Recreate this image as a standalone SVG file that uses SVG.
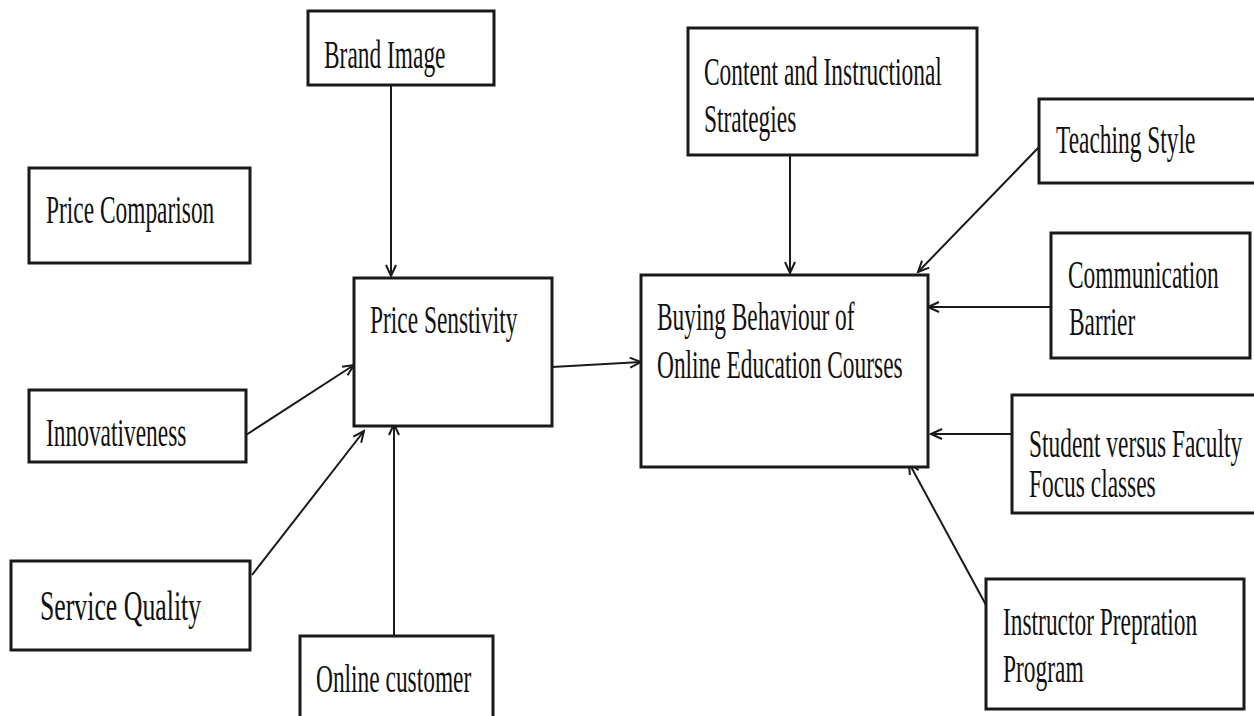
<svg xmlns="http://www.w3.org/2000/svg" width="1254" height="716" viewBox="0 0 1254 716">
<defs>
<style>
.box{fill:#fff;stroke:#1a1a1a;stroke-width:3}
.t{font-family:"Liberation Serif","Times New Roman",serif;font-size:39px;fill:#111}
.c{fill:none;stroke:#1a1a1a;stroke-width:2}
</style>
<marker id="ah" markerUnits="userSpaceOnUse" markerWidth="14" markerHeight="12" refX="12" refY="6" orient="auto">
<path d="M1,1 L12,6 L1,11" fill="none" stroke="#1a1a1a" stroke-width="2"/>
</marker>
</defs>
<rect width="1254" height="716" fill="#fff"/>
<g id="connectors">
<line class="c" x1="391" y1="86" x2="391" y2="276" marker-end="url(#ah)"/>
<line class="c" x1="246" y1="435" x2="354" y2="365" marker-end="url(#ah)"/>
<line class="c" x1="252" y1="575" x2="364" y2="431" marker-end="url(#ah)"/>
<line class="c" x1="394" y1="636" x2="394" y2="424" marker-end="url(#ah)"/>
<line class="c" x1="552" y1="367" x2="641" y2="362" marker-end="url(#ah)"/>
<line class="c" x1="790" y1="155" x2="790" y2="273" marker-end="url(#ah)"/>
<line class="c" x1="1039" y1="147" x2="918" y2="272" marker-end="url(#ah)"/>
<line class="c" x1="1051" y1="307" x2="928" y2="307" marker-end="url(#ah)"/>
<line class="c" x1="1012" y1="434" x2="931" y2="434" marker-end="url(#ah)"/>
<line class="c" x1="986" y1="605" x2="909" y2="463" marker-end="url(#ah)"/>
</g>
<g id="brand-image">
<rect class="box" x="308" y="11" width="186" height="74"/>
<text class="t" transform="translate(324,68) scale(0.6,1)">Brand Image</text>
</g>
<g id="price-comparison">
<rect class="box" x="29" y="168" width="221" height="95"/>
<text class="t" transform="translate(46,223) scale(0.6,1)">Price Comparison</text>
</g>
<g id="price-sensitivity">
<rect class="box" x="354" y="278" width="198" height="148"/>
<text class="t" transform="translate(370,333) scale(0.6,1)">Price Senstivity</text>
</g>
<g id="innovativeness">
<rect class="box" x="29" y="390" width="217" height="72"/>
<text class="t" transform="translate(46,446) scale(0.6,1)">Innovativeness</text>
</g>
<g id="service-quality">
<rect class="box" x="11" y="561" width="239" height="89"/>
<text class="t" style="font-size:43px" transform="translate(40,620) scale(0.6,1)">Service Quality</text>
</g>
<g id="online-customer">
<rect class="box" x="300" y="636" width="193" height="100"/>
<text class="t" transform="translate(316,692) scale(0.6,1)">Online customer</text>
</g>
<g id="buying-behaviour">
<rect class="box" x="641" y="275" width="287" height="192"/>
<text class="t" transform="translate(657,330) scale(0.6,1)">Buying Behaviour of</text>
<text class="t" transform="translate(657,378) scale(0.6,1)">Online Education Courses</text>
</g>
<g id="content-strategies">
<rect class="box" x="688" y="28" width="289" height="127"/>
<text class="t" transform="translate(704,85) scale(0.6,1)">Content and Instructional</text>
<text class="t" transform="translate(704,132) scale(0.6,1)">Strategies</text>
</g>
<g id="teaching-style">
<rect class="box" x="1039" y="99" width="225" height="84"/>
<text class="t" transform="translate(1056,153) scale(0.6,1)">Teaching Style</text>
</g>
<g id="communication-barrier">
<rect class="box" x="1051" y="233" width="199" height="125"/>
<text class="t" transform="translate(1068,288) scale(0.6,1)">Communication</text>
<text class="t" transform="translate(1069,335) scale(0.6,1)">Barrier</text>
</g>
<g id="student-faculty">
<rect class="box" x="1012" y="395" width="252" height="118"/>
<text class="t" transform="translate(1029,457) scale(0.6,1)">Student versus Faculty</text>
<text class="t" transform="translate(1029,497) scale(0.6,1)">Focus classes</text>
</g>
<g id="instructor-preparation">
<rect class="box" x="986" y="579" width="258" height="130"/>
<text class="t" transform="translate(1003,635) scale(0.6,1)">Instructor Prepration</text>
<text class="t" transform="translate(1003,682) scale(0.6,1)">Program</text>
</g>
</svg>
